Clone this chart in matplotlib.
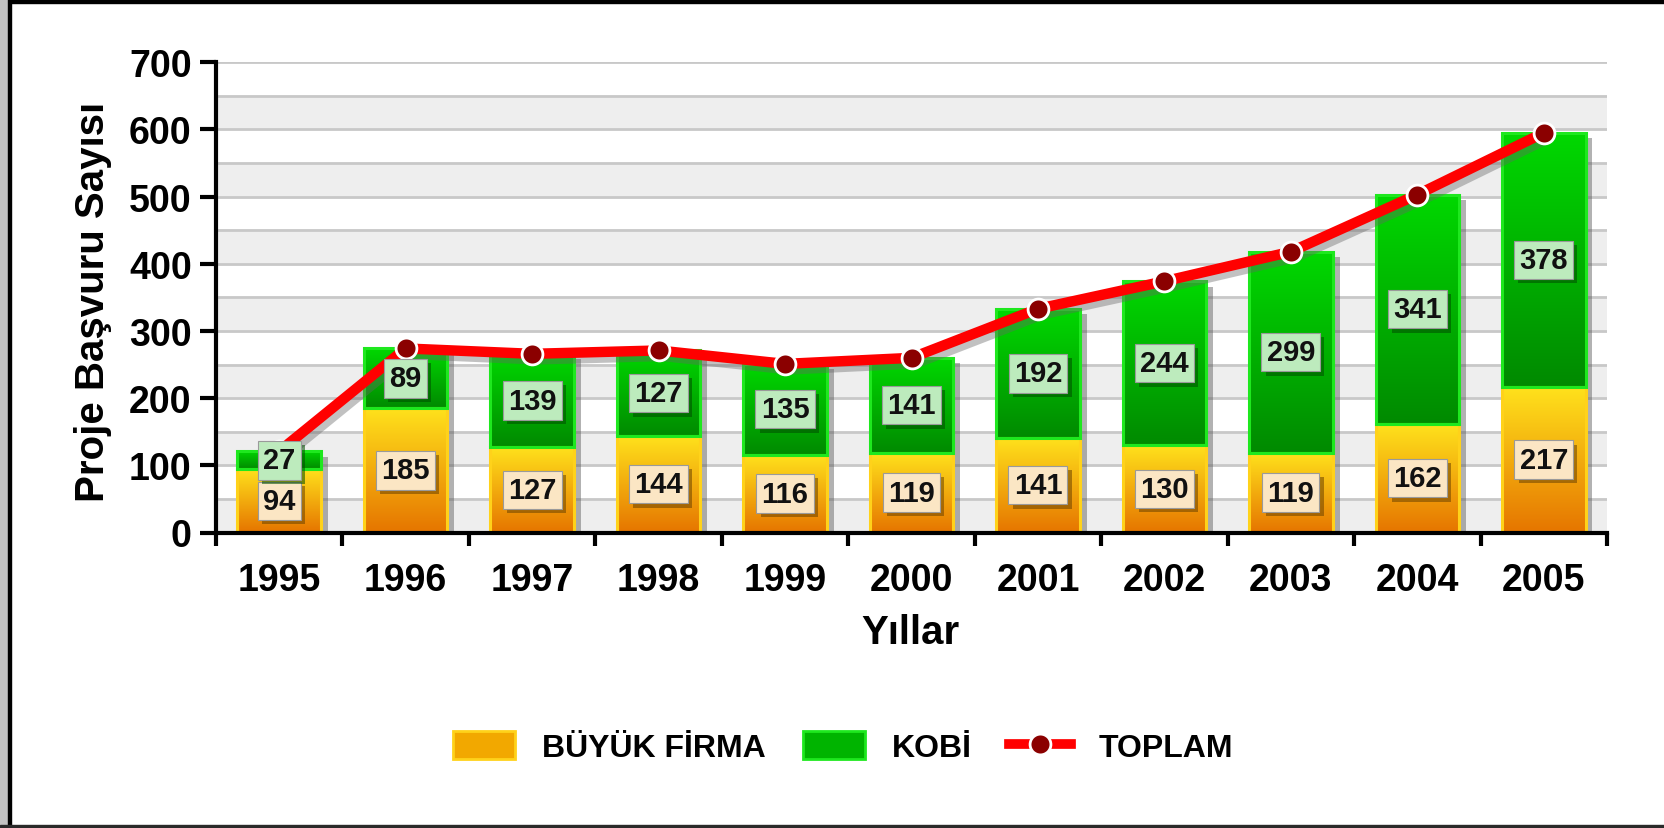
import matplotlib
matplotlib.use('Agg')
import matplotlib.pyplot as plt
import matplotlib.patheffects as pe
import numpy as np
from matplotlib.patches import Rectangle, Patch
from matplotlib.lines import Line2D
from matplotlib.colors import to_rgb

# values
years = ['1995', '1996', '1997', '1998', '1999', '2000', '2001', '2002', '2003', '2004', '2005']
buyuk_firma = [94, 185, 127, 144, 116, 119, 141, 130, 119, 162, 217]
kobi = [27, 89, 139, 127, 135, 141, 192, 244, 299, 341, 378]
toplam = [121, 274, 266, 271, 251, 260, 333, 374, 418, 503, 595]
y_ticks = [0, 100, 200, 300, 400, 500, 600, 700]

plt.rcParams['font.family'] = ['Liberation Sans', 'DejaVu Sans']
plt.rcParams['font.weight'] = 'bold'

W, H = 1664, 829
fig = plt.figure(figsize=(W / 100, H / 100), dpi=100)
ax = fig.add_axes([216 / W, 1 - 533.5 / H, (1607 - 216) / W, (533.5 - 63.3) / H])


def gradient(c_bottom, c_top, n=64):
    return np.linspace(to_rgb(c_bottom), to_rgb(c_top), n)[:, None, :]


x = np.arange(len(years))
w = 0.66

# striped background + grid
for k in range(7):
    ax.axhspan(k * 100, k * 100 + 50, color='#EEEEEE', lw=0, zorder=0)
for v in range(50, 701, 50):
    ax.axhline(v, color='#C8C8C8', lw=2, zorder=0.5)

# drop shadows of the bars
shadow = [pe.SimplePatchShadow(offset=(5, -4), shadow_rgbFace='#555555', alpha=0.45)]
ax.bar(x, buyuk_firma, w, facecolor='none', lw=0, zorder=1, path_effects=shadow)
ax.bar(x, kobi, w, bottom=buyuk_firma, facecolor='none', lw=0, zorder=1, path_effects=shadow)

# gradient fills
g_orange = gradient('#E67600', '#FFE21C')
g_green = gradient('#008A00', '#00D800')
for i in range(len(x)):
    ax.imshow(g_orange, extent=(x[i] - w / 2, x[i] + w / 2, 0, buyuk_firma[i]),
              origin='lower', aspect='auto', interpolation='bilinear', zorder=2)
    ax.imshow(g_green, extent=(x[i] - w / 2, x[i] + w / 2, buyuk_firma[i], buyuk_firma[i] + kobi[i]),
              origin='lower', aspect='auto', interpolation='bilinear', zorder=2)

ax.bar(x, buyuk_firma, w, fill=False, edgecolor='#FFD21A', lw=2.2, zorder=2.5)
ax.bar(x, kobi, w, bottom=buyuk_firma, fill=False, edgecolor='#1EE81E', lw=2.2, zorder=2.5)

# total line
ax.plot(x, toplam, color='#FF0000', lw=7.5, solid_capstyle='round', zorder=3,
        path_effects=[pe.SimpleLineShadow(offset=(3, -4), shadow_color='#666666', alpha=0.4), pe.Normal()])
ax.plot(x, toplam, ls='none', marker='o', ms=15, mfc='#8B0000', mec='white', mew=2, zorder=3.5)

# value boxes
for i in range(len(x)):
    for val, yc, fc, sc in [(buyuk_firma[i], buyuk_firma[i] / 2, '#FBE6C4', '#6B4200'),
                            (kobi[i], buyuk_firma[i] + kobi[i] / 2, '#BDEBBD', '#004D00')]:
        t = ax.text(x[i], yc, str(val), ha='center', va='center', fontsize=21, color='#111111',
                    zorder=5, bbox=dict(boxstyle='square,pad=0.18', fc=fc, ec='#9a9a9a', lw=0.8))
        t.get_bbox_patch().set_path_effects(
            [pe.SimplePatchShadow(offset=(3, -3), shadow_rgbFace=sc, alpha=0.55), pe.Normal()])

ax.set_xlim(-0.5, len(years) - 0.5)
ax.set_ylim(0, 700)
ax.set_yticks(y_ticks)
ax.set_xticks(x, years)
ax.set_xticks(np.arange(-0.5, len(years), 1), minor=True)
ax.tick_params(axis='y', length=11.5, width=3, labelsize=27, pad=6, color='black')
ax.tick_params(axis='x', which='major', length=0, pad=21, labelsize=27)
ax.tick_params(axis='x', which='minor', length=9, width=3, direction='out')
ax.yaxis.set_minor_locator(matplotlib.ticker.NullLocator())
for s in ['top', 'right']:
    ax.spines[s].set_visible(False)
for s in ['left', 'bottom']:
    ax.spines[s].set_linewidth(3)
    ax.spines[s].set_zorder(6)

fig.text(93.5 / W, 1 - 302 / H, 'Proje Başvuru Sayısı', rotation=90, ha='center', va='center', fontsize=29)
fig.text(910 / W, 1 - 644 / H, 'Yıllar', ha='center', va='baseline', fontsize=29)

handles = [Patch(fc='#F2A800', ec='#FFD21A', lw=2),
           Patch(fc='#00B400', ec='#1EE81E', lw=2),
           Line2D([], [], color='#FF0000', lw=7, marker='o', ms=15, mfc='#8B0000', mec='white', mew=2)]
fig.legend(handles, ['BÜYÜK FİRMA', 'KOBİ', 'TOPLAM'], loc='center', bbox_to_anchor=(843 / W, 1 - 748 / H),
           ncol=3, frameon=False, prop={'size': 23, 'weight': 'bold'}, handlelength=1.95, handleheight=0.95,
           handletextpad=0.85, columnspacing=1.15)

# outer frame
fig.patches.append(Rectangle((0, 1 - 4 / H), 1, 4 / H, transform=fig.transFigure, color='black'))
fig.patches.append(Rectangle((0, 0), 8 / W, 1, transform=fig.transFigure, color='#C2C2C2'))
fig.patches.append(Rectangle((8 / W, 0), 3 / W, 1, transform=fig.transFigure, color='black'))
fig.patches.append(Rectangle((0, 0), 1, 3 / H, transform=fig.transFigure, color='#2A2A2A'))

fig.savefig('out.png', dpi=100)
